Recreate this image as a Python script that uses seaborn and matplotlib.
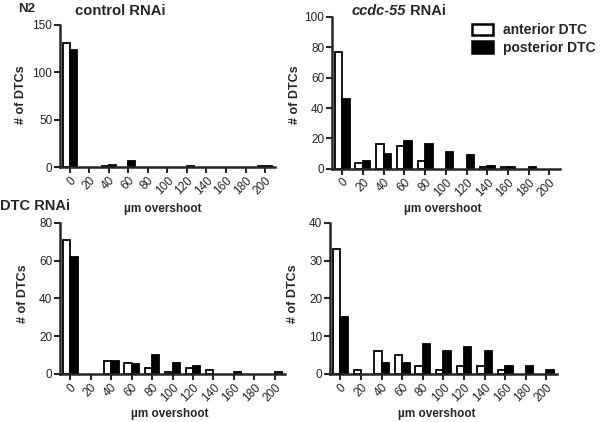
import matplotlib

matplotlib.use("Agg")
import matplotlib.pyplot as plt
import pandas as pd
import seaborn as sns

sns.set_style("ticks")
plt.rcParams["font.family"] = ["Liberation Sans", "DejaVu Sans"]

# overshoot bins (um)
bins = ["0", "20", "40", "60", "80", "100", "120", "140", "160", "180", "200"]
sides = ["anterior DTC", "posterior DTC"]

# N2 control RNAi
ctrl_ant = [131, 0, 1, 0, 0, 0, 0, 0, 0, 0, 1]
ctrl_post = [123, 0, 2, 6, 0, 0, 1, 0, 0, 0, 1]
# N2 ccdc-55 RNAi
ccdc_ant = [77, 4, 16, 15, 5, 0, 0, 1, 1, 0, 0]
ccdc_post = [46, 5, 10, 18, 16, 11, 9, 2, 1, 1, 0]
# DTC RNAi control
dtc_ctrl_ant = [71, 0, 7, 6, 3, 1, 3, 2, 0, 0, 0]
dtc_ctrl_post = [62, 0, 7, 5, 10, 6, 4, 0, 1, 0, 1]
# DTC RNAi ccdc-55
dtc_ccdc_ant = [33, 1, 6, 5, 2, 1, 2, 2, 1, 0, 0]
dtc_ccdc_post = [15, 0, 3, 3, 8, 6, 7, 6, 2, 2, 1]

yticks_ctrl = [0, 50, 100, 150]
yticks_ccdc = [0, 20, 40, 60, 80, 100]
yticks_dtc_ctrl = [0, 20, 40, 60, 80]
yticks_dtc_ccdc = [0, 10, 20, 30, 40]


def long_df(ant, post):
    return pd.DataFrame({
        "overshoot": bins * 2,
        "count": ant + post,
        "side": [sides[0]] * len(bins) + [sides[1]] * len(bins),
    })


fig = plt.figure(figsize=(6, 4.22), dpi=100)

panels = [
    ([0.100, 0.604, 0.358, 0.337], ctrl_ant, ctrl_post, yticks_ctrl),
    ([0.553, 0.600, 0.380, 0.360], ccdc_ant, ccdc_post, yticks_ccdc),
    ([0.100, 0.114, 0.375, 0.358], dtc_ctrl_ant, dtc_ctrl_post, yticks_dtc_ctrl),
    ([0.550, 0.114, 0.378, 0.358], dtc_ccdc_ant, dtc_ccdc_post, yticks_dtc_ccdc),
]

axes = []
for rect, ant, post, yt in panels:
    ax = fig.add_axes(rect)
    sns.barplot(data=long_df(ant, post), x="overshoot", y="count", hue="side",
                order=bins, hue_order=sides,
                palette={sides[0]: "white", sides[1]: "black"},
                edgecolor="black", linewidth=1.3, width=0.72, gap=0,
                legend=False, ax=ax)
    # empty bins show nothing
    for p in ax.patches:
        if p.get_height() == 0:
            p.set_visible(False)
    ax.set_xlim(-0.5, 10.5)
    ax.set_ylim(0, yt[-1])
    ax.set_yticks(yt)
    ax.set_xlabel("")
    ax.set_ylabel("")
    sns.despine(ax=ax)
    for s in ("left", "bottom"):
        ax.spines[s].set_linewidth(1.8)
    ax.tick_params(axis="both", length=4, width=1.5, labelsize=8.5, pad=1.5)
    plt.setp(ax.get_xticklabels(), rotation=45, ha="right",
             rotation_mode="anchor")
    axes.append(ax)

# axis labels
for x, y in [(0.035, 0.775), (0.492, 0.775), (0.038, 0.305), (0.488, 0.305)]:
    fig.text(x, y, "# of DTCs", rotation=90, ha="center", va="center",
             fontsize=9, fontweight="bold")
for x, y in [(0.272, 0.505), (0.738, 0.505), (0.283, 0.018), (0.728, 0.018)]:
    fig.text(x, y, "µm overshoot", ha="center", va="center",
             fontsize=8.5, fontweight="bold")

# panel titles
fig.text(0.045, 0.978, "N2", ha="center", va="center", fontsize=9.5,
         fontweight="bold")
fig.text(0.200, 0.975, "control RNAi", ha="center", va="center",
         fontsize=10.7, fontweight="bold")
t1 = fig.text(0.586, 0.975, "ccdc-55", ha="left", va="center", fontsize=10.5,
              fontweight="bold", fontstyle="italic")
fig.text(0.0, 0.512, "DTC RNAi", ha="left", va="center", fontsize=10.5,
         fontweight="bold")
axes[1].annotate(" RNAi", xy=(1, 0), xycoords=t1, va="bottom", ha="left",
                 fontsize=10.5, fontweight="bold")

# legend
handles = [plt.Rectangle((0, 0), 1, 1, facecolor=c, edgecolor="black",
                         linewidth=1.8) for c in ("white", "black")]
fig.legend(handles, sides, loc="upper left", bbox_to_anchor=(0.787, 0.945),
           frameon=False, prop={"size": 10, "weight": "bold"},
           handlelength=1.5, handleheight=0.93, handletextpad=0.75,
           labelspacing=0.25, borderpad=0, borderaxespad=0)

fig.savefig("out.png", dpi=100)
